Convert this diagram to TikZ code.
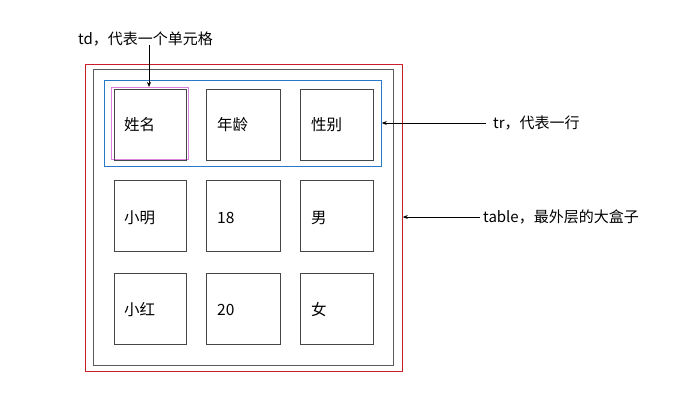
\documentclass[tikz,border=0pt]{standalone}
\usepackage{fontspec}
\setmainfont{Noto Sans CJK SC}
\usetikzlibrary{arrows.meta}
\definecolor{redbox}{RGB}{200,30,40}
\definecolor{bluebox}{RGB}{40,120,200}
\definecolor{pinkbox}{RGB}{220,130,220}
\definecolor{graybox}{RGB}{90,90,90}
\definecolor{cellgray}{RGB}{70,70,70}
\tikzset{
  cellbox/.style={draw=cellgray, line width=0.8pt, minimum width=72pt, minimum height=71pt, inner sep=0pt, anchor=north west},
  celltext/.style={font=\fontsize{15.5pt}{17pt}\selectfont, anchor=west, inner sep=0pt},
  lbl/.style={font=\fontsize{15pt}{17pt}\selectfont, anchor=west, inner sep=0pt},
  pointer/.style={-{Stealth[length=5pt,width=4pt]}, line width=0.7pt, black}
}
\begin{document}
\begin{tikzpicture}[x=1pt,y=-1pt]
\useasboundingbox (0,0) rectangle (677,406);
% outer boxes
\node[draw=redbox, line width=0.8pt, minimum width=317pt, minimum height=307pt, inner sep=0pt, anchor=north west] (table) at (85,64) {};
\node[draw=graybox, line width=0.9pt, minimum width=300pt, minimum height=296pt, inner sep=0pt, anchor=north west] (inner) at (93,69) {};
\node[draw=bluebox, line width=0.8pt, minimum width=277pt, minimum height=86pt, inner sep=0pt, anchor=north west] (tr) at (104,80) {};
\node[draw=pinkbox, line width=0.8pt, minimum width=77pt, minimum height=72pt, inner sep=0pt, anchor=north west] (td) at (111,87) {};
% cells
\node[cellbox] (c11) at (114,89) {};
\node[cellbox, minimum width=74pt] (c12) at (206,89) {};
\node[cellbox, minimum width=73pt] (c13) at (300,89) {};
\node[cellbox] (c21) at (114,180) {};
\node[cellbox, minimum width=74pt] (c22) at (206,180) {};
\node[cellbox, minimum width=73pt] (c23) at (300,180) {};
\node[cellbox] (c31) at (114,273) {};
\node[cellbox, minimum width=74pt] (c32) at (206,273) {};
\node[cellbox, minimum width=73pt] (c33) at (300,273) {};
% cell texts
\node[celltext] (t11) at ([xshift=10pt]c11.west) {姓名};
\node[celltext] (t12) at ([xshift=11pt]c12.west) {年龄};
\node[celltext] (t13) at ([xshift=11pt]c13.west) {性别};
\node[celltext] (t21) at ([xshift=10pt,yshift=-2pt]c21.west) {小明};
\node[celltext] (t22) at ([xshift=11pt,yshift=-2pt]c22.west) {18};
\node[celltext] (t23) at ([xshift=11pt,yshift=-2pt]c23.west) {男};
\node[celltext] (t31) at ([xshift=10pt,yshift=-1pt]c31.west) {小红};
\node[celltext] (t32) at ([xshift=11pt,yshift=-1pt]c32.west) {20};
\node[celltext] (t33) at ([xshift=11pt,yshift=-1pt]c33.west) {女};
% labels
\node[lbl] (ltd) at (78,39) {td，代表一个单元格};
\node[lbl] (ltr) at (493,123) {tr，代表一行};
\node[lbl] (ltable) at (483,217) {table，最外层的大盒子};
% pointers
\coordinate (tdstart) at (149,45);
\draw[pointer] (tdstart) -- (tdstart |- td.north);
\coordinate (trstart) at (486,123);
\draw[pointer] (trstart) -- (trstart -| tr.east);
\coordinate (tablestart) at (480,217);
\draw[pointer] (tablestart) -- (tablestart -| table.east);
\end{tikzpicture}
\end{document}
